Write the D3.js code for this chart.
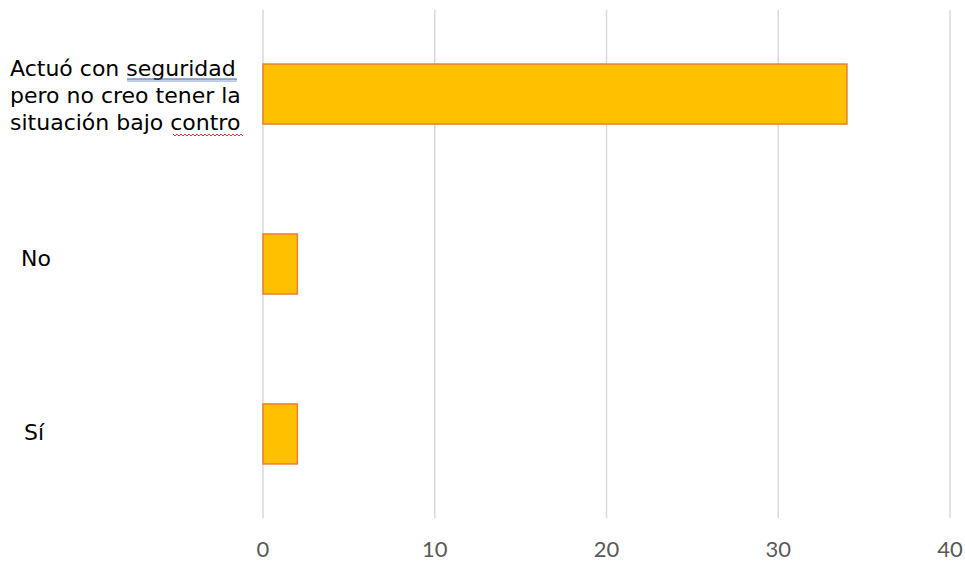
<!DOCTYPE html>
<html><head><meta charset="utf-8">
<script src="https://cdn.jsdelivr.net/npm/d3@7"></script>
<style>body{margin:0;background:#fff}</style>
</head><body>
<svg id="c" width="965" height="564"></svg>
<script>
const categories = ["Actuó con seguridad pero no creo tener la situación bajo contro", "No", "Sí"];
const labelLines = [["Actuó con seguridad", "pero no creo tener la", "situación bajo contro"], ["No"], ["Sí"]];
const values = [34, 2, 2];
const xTicks = [0, 10, 20, 30, 40];

const svg = d3.select("#c");
const x = d3.scaleLinear().domain([0, 40]).range([263, 950]);
const y = d3.scaleBand().domain(categories).range([10, 518]).paddingInner(0.647).paddingOuter(0.318);

// gridlines
svg.append("g").selectAll("line").data(xTicks).join("line")
  .attr("x1", d => x(d)).attr("x2", d => x(d))
  .attr("y1", 10).attr("y2", 518)
  .attr("stroke", "#d9d9d9").attr("stroke-width", 1.5);

// tick labels
svg.append("g").selectAll("text").data(xTicks).join("text")
  .attr("x", d => x(d)).attr("y", 557)
  .attr("text-anchor", "middle")
  .attr("font-family", "Lato, 'Open Sans', sans-serif")
  .attr("font-size", 22).attr("fill", "#595959")
  .text(d => d);

// bars
svg.append("g").selectAll("rect").data(values).join("rect")
  .attr("x", x(0)).attr("y", (d, i) => y(categories[i]))
  .attr("width", d => x(d) - x(0)).attr("height", y.bandwidth())
  .attr("fill", "#FFC000").attr("stroke", "#ED7D31").attr("stroke-width", 1.5);

// category labels
const labelX = [10, 21, 24];
const labelDy = [9, 2, 6];
const lh = 27;
const lg = svg.append("g").attr("font-family", "'DejaVu Sans', sans-serif").attr("font-size", 22).attr("fill", "#000");
labelLines.forEach((lines, i) => {
  const cy = y(categories[i]) + y.bandwidth() / 2;
  const t = lg.append("text").attr("x", labelX[i]);
  lines.forEach((ln, j) => {
    t.append("tspan").attr("x", labelX[i])
      .attr("y", cy + (j - (lines.length - 1) / 2) * lh + labelDy[i])
      .text(ln);
  });
});

// proofing marks under "seguridad" and "contro"
const cy0 = y(categories[0]) + y.bandwidth() / 2;
const b1 = cy0 - lh + labelDy[0], b3 = cy0 + lh + labelDy[0];
svg.append("line").attr("x1", 127).attr("x2", 237).attr("y1", b1 + 3).attr("y2", b1 + 3).attr("stroke", "#2f5597").attr("stroke-width", 1);
svg.append("line").attr("x1", 127).attr("x2", 237).attr("y1", b1 + 5).attr("y2", b1 + 5).attr("stroke", "#7f9fcf").attr("stroke-width", 1);
let sq = "M173," + (b3 + 4);
for (let xx = 173, k = 0; xx < 243; xx += 2, k++) sq += " L" + (xx + 2) + "," + (b3 + 4 + (k % 2 ? 0 : 2));
svg.append("path").attr("d", sq).attr("fill", "none").attr("stroke", "#e03030").attr("stroke-width", 1);
</script>
</body></html>
